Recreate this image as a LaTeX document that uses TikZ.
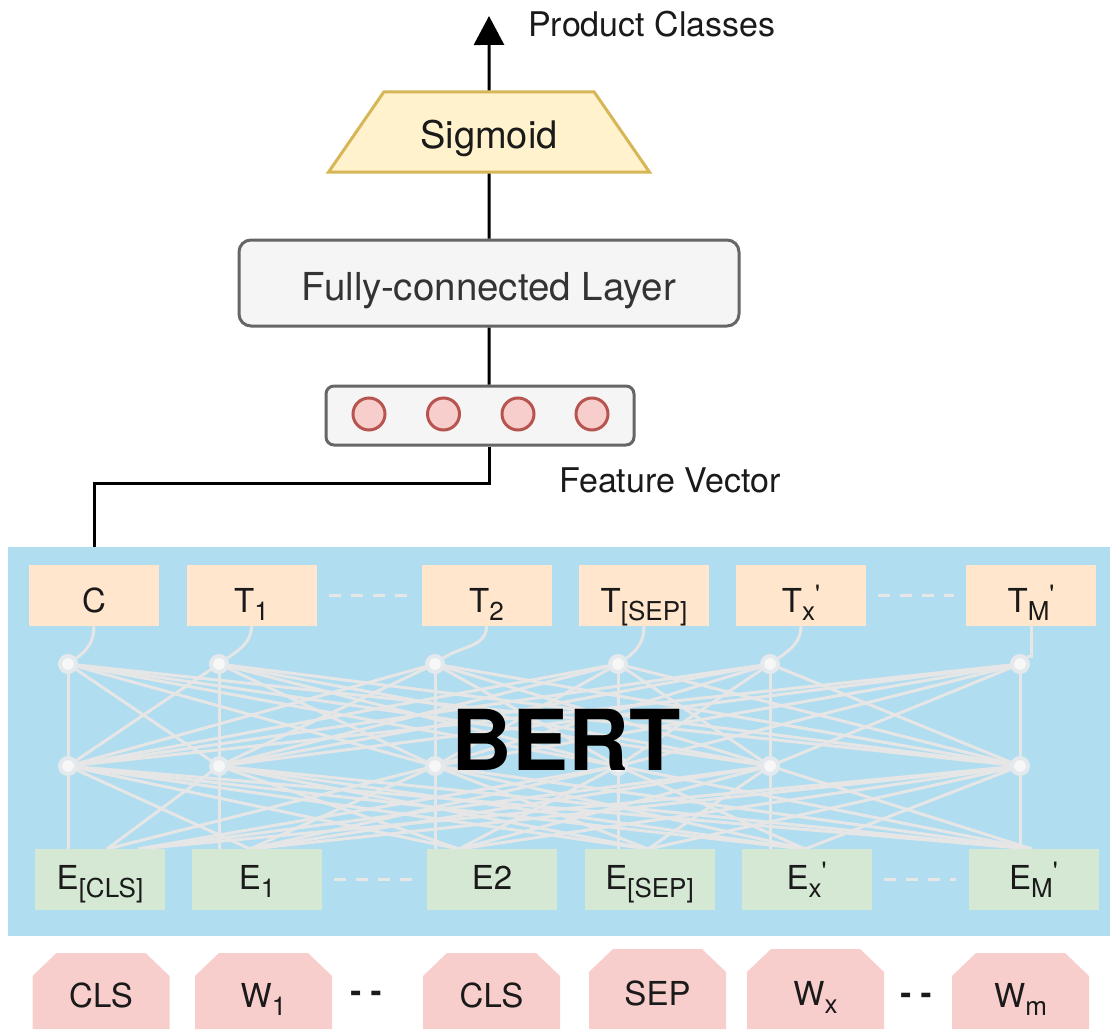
\documentclass[tikz,border=0pt]{standalone}
\usepackage{fontspec}
\setmainfont{TeX Gyre Heros}
\usetikzlibrary{arrows.meta,shapes.geometric,calc}

\definecolor{panelblue}{HTML}{B1DDF0}
\definecolor{outfill}{HTML}{FFE6CC}
\definecolor{embfill}{HTML}{D5E8D4}
\definecolor{tokfill}{HTML}{F8CECC}
\definecolor{netgray}{HTML}{E6E6E6}
\definecolor{unitring}{HTML}{E3E9EC}
\definecolor{unitcore}{HTML}{F7F7F7}
\definecolor{sigfill}{HTML}{FFF2CC}
\definecolor{sigedge}{HTML}{D6B656}
\definecolor{boxfill}{HTML}{F5F5F5}
\definecolor{boxedge}{HTML}{666666}
\definecolor{cellfill}{HTML}{F8CECC}
\definecolor{celledge}{HTML}{B85450}
\definecolor{ink}{HTML}{1A1A1A}
\definecolor{fctext}{HTML}{333333}

\pgfdeclarelayer{under}
\pgfdeclarelayer{panel}
\pgfdeclarelayer{net}
\pgfsetlayers{under,panel,net,main}

% subscript and prime marks for the token labels
\newcommand\lowidx[1]{\raisebox{-8pt}{\fontsize{26}{26}\selectfont #1}}
\newcommand\highidx{\raisebox{9pt}{\fontsize{26}{26}\selectfont\XeTeXglyph\XeTeXglyphindex "quotesingle"\relax}}

\begin{document}
\begin{tikzpicture}[x=1pt,y=-1pt,
  lbl/.style={font=\fontsize{33}{33}\selectfont, text=ink, inner sep=0pt},
  outbox/.style={lbl, rectangle, fill=outfill, minimum width=130pt, minimum height=61pt,
    text height=36pt, text depth=2pt},
  embbox/.style={lbl, rectangle, fill=embfill, minimum width=130pt, minimum height=61pt,
    text height=26pt, text depth=6pt},
  token/.style={lbl, rectangle, fill=white, minimum width=137pt, minimum height=#1,
    text height=34pt, text depth=2pt,
    path picture={\fill[tokfill] (path picture bounding box.south west)
      -- ([yshift=-23pt]path picture bounding box.north west)
      -- ([xshift=24pt]path picture bounding box.north west)
      -- ([xshift=-24pt]path picture bounding box.north east)
      -- ([yshift=-23pt]path picture bounding box.north east)
      -- (path picture bounding box.south east) -- cycle;}},
  unit/.style={circle, fill=unitcore, draw=unitring, line width=4pt, minimum size=16pt, inner sep=0pt},
  link/.style={netgray, line width=3pt},
  gap/.style={netgray, line width=3pt, dash pattern=on 12pt off 10pt, shorten <=12pt, shorten >=12pt},
  wire/.style={black, line width=3pt},
  fcbox/.style={rectangle, rounded corners=12pt, fill=boxfill, draw=boxedge, line width=3pt,
    minimum width=500pt, minimum height=86pt, inner sep=0pt,
    font=\fontsize{38.5}{38.5}\selectfont, text=fctext, text height=36pt, text depth=2pt},
  sigshape/.style={trapezium, trapezium left angle=45, trapezium right angle=45,
    trapezium stretches=true, minimum width=321pt, minimum height=80pt, inner sep=0pt,
    fill=sigfill, draw=sigedge, line width=3pt,
    font=\fontsize{38}{38}\selectfont, text=ink, text height=34pt, text depth=2pt},
  vecbox/.style={rectangle, rounded corners=8pt, fill=boxfill, draw=boxedge, line width=3pt,
    minimum width=308pt, minimum height=59pt, inner sep=0pt},
  cell/.style={circle, fill=cellfill, draw=celledge, line width=3pt, minimum size=32pt, inner sep=0pt},
  caption/.style={anchor=base west, font=\fontsize{34}{34}\selectfont, text=ink, inner sep=0pt},
]
\useasboundingbox (0,0) rectangle (1110,1030);

% ---- classification head ----
\node[sigshape] (sig) at (489,132) {Sigmoid};
\coordinate (out) at (489,16);
\draw[wire, -{Triangle[width=30pt,length=29pt]}] (sig.north) -- (out);
\node[caption] (outlabel) at (528,36.7) {Product Classes};

\node[fcbox] (fc) at (489,283) {Fully-connected Layer};
\draw[wire] (fc.north) -- (sig.south);

\node[vecbox] (fv) at (480,415.5) {};
\foreach \x [count=\k] in {369,443.5,518,592}
  \node[cell] (c\k) at (\x,414) {};
\draw[wire] (fv.north -| sig.south) -- (fc.south);
\node[caption] (fvlabel) at (559,492.7) {Feature Vector};

% ---- BERT panel ----
\begin{pgfonlayer}{panel}
  \fill[panelblue] (8,547) rectangle (1110,936);
\end{pgfonlayer}

% output tokens
\node[outbox] (o1) at (94,595.5)   {C};
\node[outbox] (o2) at (251.5,595.5) {T\lowidx{1}};
\node[outbox] (o3) at (486.5,595.5) {T\lowidx{2}};
\node[outbox] (o4) at (644,595.5)   {T\lowidx{[SEP]}};
\node[outbox] (o5) at (801,595.5)   {T\lowidx{x}\highidx};
\node[outbox] (o6) at (1031,595.5)  {T\lowidx{M}\highidx};

% embeddings
\node[embbox] (e1) at (100,879.5)    {E\lowidx{[CLS]}};
\node[embbox] (e2) at (257,879.5)    {E\lowidx{1}};
\node[embbox] (e3) at (492,879.5)    {E2};
\node[embbox] (e4) at (649.5,879.5)  {E\lowidx{[SEP]}};
\node[embbox] (e5) at (806.5,879.5)  {E\lowidx{x}\highidx};
\node[embbox] (e6) at (1033.5,879.5) {E\lowidx{M}\highidx};

% transformer units
\foreach \x [count=\i] in {68,219,435,618,770,1020} {
  \node[unit] (u\i) at (\x,664) {};
  \node[unit] (m\i) at (\x,766) {};
}

% entry points on the embedding boxes
\coordinate (b1a) at (107,849);
\coordinate (b1b) at (138,849);
\coordinate (b2) at (250,849);
\coordinate (b3) at (459,849);
\coordinate (b4) at (648,849);
\coordinate (b5) at (805,849);
\coordinate (b6) at (1032,849);

\begin{pgfonlayer}{net}
  \foreach \i in {1,...,6}
    \foreach \j in {1,...,6}
      \draw[link] (u\i.center) -- (m\j.center);
  \foreach \i in {1,...,6}
    \draw[link] (m\i.center) -- (m\i.center |- e\i.north);
  \foreach \j in {2,3}
    \draw[link] (m\j.center) -- (b1a);
  \foreach \j in {4,5,6}
    \draw[link] (m\j.center) -- (b1b);
  \foreach \i in {2,...,6}
    \foreach \j in {1,...,6} {
      \ifnum\i=\j\else\draw[link] (m\j.center) -- (b\i);\fi
    }
  \foreach \i in {1,...,5}
    \draw[link] (o\i.south) to[out=-90,in=35] (u\i);
  \draw[link] (o6.south) |- (u6.north east);
\end{pgfonlayer}

\draw[gap] (o2) -- (o3);
\draw[gap] (o5) -- (o6);
\draw[gap] (e2) -- (e3);
\draw[gap] (e5) -- (e6);

\node[font=\fontsize{84}{84}\selectfont\bfseries, text=black, inner sep=0pt, anchor=base] (bert) at (566,770) {BERT};

% feature vector taken from the [CLS] output
\begin{pgfonlayer}{under}
  \draw[wire] (fv.south -| sig.south) -- ++(0,37) -| (o1.north);
\end{pgfonlayer}

% ---- input words ----
\node[token=76pt] (w1) at (101,991)    {CLS};
\node[token=76pt] (w2) at (263.5,991)  {W\lowidx{1}};
\node[token=76pt] (w3) at (491.5,991)  {CLS};
\node[token=80pt] (w4) at (657.5,989)  {SEP};
\node[token=80pt] (w5) at (815.5,989)  {W\lowidx{x}};
\node[token=76pt] (w6) at (1020.5,991) {W\lowidx{m}};

\node[lbl, font=\fontsize{33}{33}\selectfont\bfseries] (d1) at (366,997) {- -};
\node[lbl, font=\fontsize{33}{33}\selectfont\bfseries] (d2) at (916,999) {- -};
\end{tikzpicture}
\end{document}
